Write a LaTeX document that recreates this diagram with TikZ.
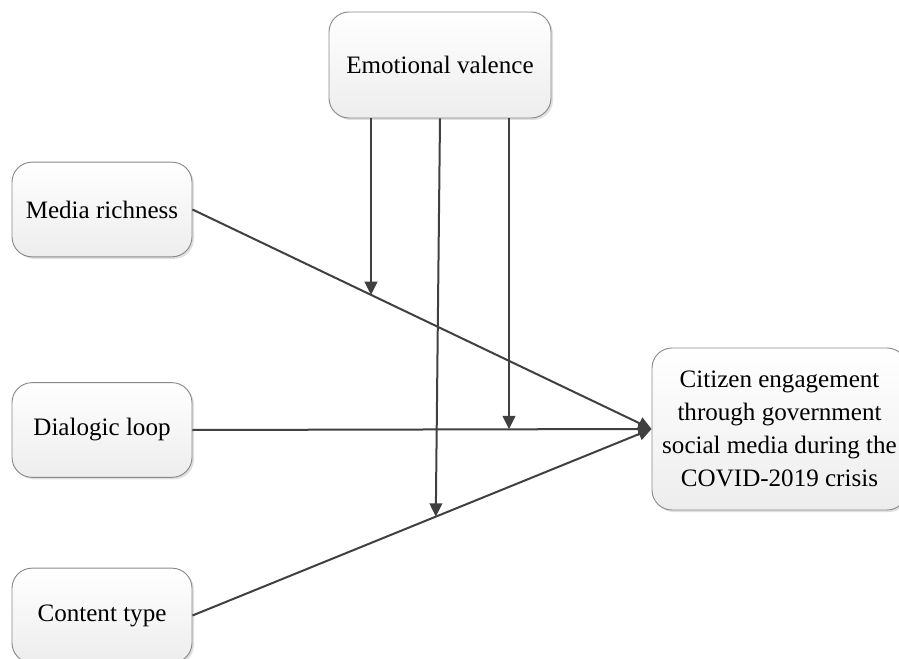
\documentclass[tikz,border=0pt]{standalone}
\usepackage{fontspec}
\setmainfont{Liberation Serif}
\usetikzlibrary{arrows.meta,shadows}
\definecolor{linec}{HTML}{404040}
\definecolor{boxline}{HTML}{8A8A8A}
\definecolor{boxfill}{HTML}{EDEDED}
\begin{document}
\begin{tikzpicture}[x=0.75pt,y=-0.75pt,
  box/.style={draw=boxline, line width=0.7pt, rounded corners=15pt,
    top color=white, bottom color=boxfill,
    drop shadow={shadow xshift=1.5pt,shadow yshift=-1.5pt,opacity=0.25,fill=gray},
    inner sep=0pt, align=center, font=\fontsize{18.8}{24.75}\selectfont},
  smallbox/.style={box, minimum width=135pt, minimum height=71pt},
  conn/.style={draw=linec, line width=1.5pt, -{Triangle[length=10pt,width=9.5pt]}}]
\useasboundingbox (0,0) rectangle (899,659);
\node[box, minimum width=166.5pt, minimum height=79.5pt] (ev) at (440,65) {Emotional valence};
\node[smallbox] (mr) at (102,209.5) {Media richness};
\node[smallbox] (dl) at (102,430) {Dialogic loop};
\node[smallbox] (ct) at (102,615.5) {Content type};
\node[box, minimum width=191.25pt, minimum height=121.5pt] (ce) at (779.5,429) {Citizen engagement\\through government\\social media during the\\COVID-2019 crisis};
\path (mr.east) -- (ce.west) coordinate[pos=0.389] (m1);
\path (dl.east) -- (ce.west) coordinate[pos=0.689] (m2);
\path (ct.east) -- (ce.west) coordinate[pos=0.53] (m3);
\coordinate (s1) at ([xshift=-51.75pt]ev.south);
\coordinate (s2) at (ev.south);
\coordinate (s3) at ([xshift=51.75pt]ev.south);
\draw[conn] (mr.east) -- (ce.west);
\draw[conn] (dl.east) -- (ce.west);
\draw[conn] (ct.east) -- (ce.west);
\draw[conn] (s1) -- (s1 |- m1);
\draw[conn] (s2) -- (m3);
\draw[conn] (s3) -- (s3 |- m2);
\end{tikzpicture}
\end{document}
